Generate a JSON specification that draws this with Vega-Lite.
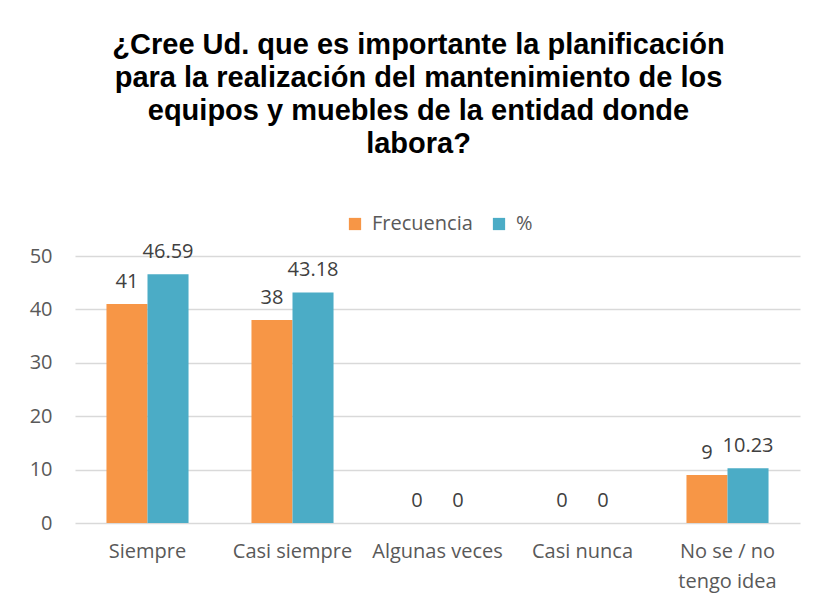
{
  "$schema": "https://vega.github.io/schema/vega-lite/v6.json",
  "width": 725,
  "height": 267,
  "autosize": {"type": "none"},
  "padding": {"left": 75, "top": 256, "right": 15, "bottom": 89},
  "background": "white",
  "title": {
    "text": ["¿Cree Ud. que es importante la planificación", "para la realización del mantenimiento de los", "equipos y muebles de la entidad donde", "labora?"],
    "font": "Liberation Sans",
    "fontSize": 29,
    "fontWeight": "bold",
    "color": "#000000",
    "lineHeight": 33,
    "anchor": "middle",
    "dx": -19,
    "offset": 55
  },
  "data": {
    "values": [
      {"categoria": "Siempre", "serie": "Frecuencia", "valor": 41, "etiqueta": "41"},
      {"categoria": "Siempre", "serie": "%", "valor": 46.59, "etiqueta": "46.59"},
      {"categoria": "Casi siempre", "serie": "Frecuencia", "valor": 38, "etiqueta": "38"},
      {"categoria": "Casi siempre", "serie": "%", "valor": 43.18, "etiqueta": "43.18"},
      {"categoria": "Algunas veces", "serie": "Frecuencia", "valor": 0, "etiqueta": "0"},
      {"categoria": "Algunas veces", "serie": "%", "valor": 0, "etiqueta": "0"},
      {"categoria": "Casi nunca", "serie": "Frecuencia", "valor": 0, "etiqueta": "0"},
      {"categoria": "Casi nunca", "serie": "%", "valor": 0, "etiqueta": "0"},
      {"categoria": "No se / no tengo idea", "serie": "Frecuencia", "valor": 9, "etiqueta": "9"},
      {"categoria": "No se / no tengo idea", "serie": "%", "valor": 10.23, "etiqueta": "10.23"}
    ]
  },
  "encoding": {
    "x": {
      "field": "categoria",
      "type": "nominal",
      "sort": null,
      "title": null,
      "scale": {"paddingInner": 0.434, "paddingOuter": 0.217},
      "axis": {
        "labelAngle": 0,
        "domain": false,
        "ticks": false,
        "labelFont": "Open Sans",
        "labelFontSize": 20,
        "labelColor": "#595959",
        "labelPadding": 18,
        "labelLineHeight": 30,
        "labelExpr": "datum.value == 'No se / no tengo idea' ? ['No se / no', 'tengo idea'] : datum.value"
      }
    },
    "xOffset": {
      "field": "serie",
      "type": "nominal",
      "sort": ["Frecuencia", "%"],
      "scale": {"paddingInner": 0, "paddingOuter": 0}
    },
    "y": {
      "field": "valor",
      "type": "quantitative",
      "title": null,
      "scale": {"domain": [0, 50]},
      "axis": {
        "values": [0, 10, 20, 30, 40, 50],
        "domain": false,
        "ticks": false,
        "gridColor": "#d9d9d9",
        "gridWidth": 1.3,
        "labelFont": "Open Sans",
        "labelFontSize": 20,
        "labelColor": "#595959",
        "labelPadding": 23
      }
    }
  },
  "layer": [
    {
      "mark": {"type": "bar"},
      "encoding": {
        "color": {
          "field": "serie",
          "type": "nominal",
          "sort": ["Frecuencia", "%"],
          "scale": {"domain": ["Frecuencia", "%"], "range": ["#F79646", "#4BACC6"]},
          "legend": {
            "title": null,
            "orient": "none",
            "direction": "horizontal",
            "legendX": 270,
            "legendY": -42,
            "symbolType": "square",
            "symbolSize": 150,
            "symbolStrokeWidth": 0,
            "labelFont": "Open Sans",
            "labelFontSize": 20,
            "labelColor": "#595959",
            "columnPadding": 16,
            "labelOffset": 7
          }
        }
      }
    },
    {
      "mark": {"type": "text", "baseline": "alphabetic", "dy": -16, "font": "Open Sans", "fontSize": 20, "color": "#404040"},
      "encoding": {
        "text": {"field": "etiqueta", "type": "nominal"}
      }
    }
  ],
  "config": {
    "view": {"stroke": null}
  }
}
